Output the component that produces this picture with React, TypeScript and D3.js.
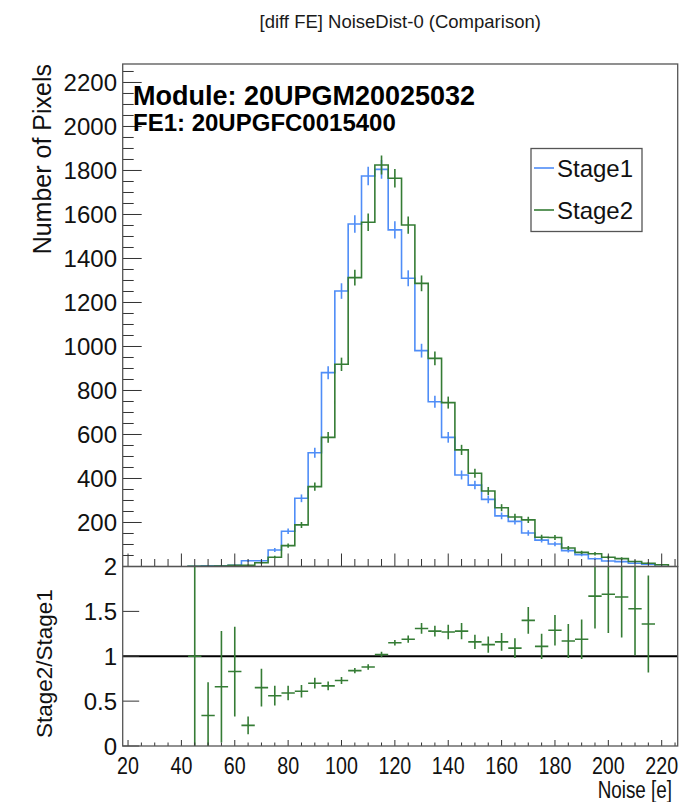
import React from 'react'
import * as d3 from 'd3'

// bin centres (bin width 5)
const binCenters = [45, 50, 55, 60, 65, 70, 75, 80, 85, 90, 95, 100, 105, 110, 115, 120, 125, 130, 135, 140,
  145, 150, 155, 160, 165, 170, 175, 180, 185, 190, 195, 200, 205, 210, 215, 220]

const stage1 = [1, 3, 3, 6, 26, 26, 75, 160, 310, 517, 881, 1252, 1557, 1775, 1805, 1530, 1310, 981, 749, 587,
  416, 370, 305, 230, 205, 152, 120, 102, 72, 54, 35, 25, 22, 15, 11, 0]

const stage2 = [1, 1, 2, 5, 6, 17, 42, 95, 189, 363, 587, 919, 1313, 1565, 1825, 1765, 1552, 1287, 946, 745,
  530, 424, 343, 267, 225, 212, 133, 132, 84, 64, 58, 42, 36, 23, 15, 8]

// ratio panel (bins 45..215)
const ratioValues = [1.0, 0.34, 0.66, 0.83, 0.23, 0.65, 0.56, 0.59, 0.61, 0.70, 0.67, 0.73, 0.84, 0.88, 1.02, 1.15,
  1.19, 1.31, 1.28, 1.27, 1.28, 1.16, 1.13, 1.16, 1.09, 1.40, 1.11, 1.29, 1.17, 1.19, 1.67, 1.69, 1.66, 1.53, 1.36]
const ratioErrors = [1.41, 0.37, 0.62, 0.5, 0.1, 0.21, 0.11, 0.08, 0.07, 0.06, 0.05, 0.04, 0.03, 0.03, 0.03, 0.03,
  0.04, 0.06, 0.06, 0.08, 0.09, 0.08, 0.09, 0.1, 0.11, 0.15, 0.14, 0.17, 0.19, 0.22, 0.36, 0.43, 0.45, 0.52, 0.54]

const xTickLabels = [20, 40, 60, 80, 100, 120, 140, 160, 180, 200, 220]
const yTickLabels = [200, 400, 600, 800, 1000, 1200, 1400, 1600, 1800, 2000, 2200]
const ratioTickLabels = [0, 0.5, 1, 1.5, 2]

const BIN_W = 5
const BLUE = '#4f8df7'
const GREEN = '#357c35'
const FONT = 'Liberation Sans, Arial, Helvetica, sans-serif'

const left = 122.7
const right = 677.7
const topY = 64
const midY = 566.5
const bottomY = 746

export default function App() {
  const x = d3.scaleLinear().domain([18, 226]).range([left, right])
  const y = d3.scaleLinear().domain([0, 2284]).range([midY, topY])
  const yr = d3.scaleLinear().domain([0, 2]).range([bottomY, midY])

  const stepPath = (vals: number[]) => {
    let p = `M${x(binCenters[0] - BIN_W / 2)},${y(0)}`
    vals.forEach((v, i) => {
      p += `V${y(v)}H${x(binCenters[i] + BIN_W / 2)}`
    })
    p += `V${y(0)}`
    return p
  }

  const errBars = (vals: number[], color: string) =>
    vals.map((v, i) =>
      v > 0 ? (
        <line key={i} x1={x(binCenters[i])} x2={x(binCenters[i])}
          y1={y(v - Math.sqrt(v))} y2={y(v + Math.sqrt(v))} stroke={color} strokeWidth={1.6} />
      ) : null
    )

  const xMinor = d3.range(20, 226, 5)
  const yMinor = d3.range(0, 2284, 50)

  return (
    <svg width={695} height={802} style={{ position: 'absolute', left: 0, top: 0, background: '#fff' }}
      fontFamily={FONT}>
      <defs>
        <clipPath id="upClip"><rect x={left} y={topY} width={right - left} height={midY - topY} /></clipPath>
        <clipPath id="lowClip"><rect x={left} y={midY} width={right - left} height={bottomY - midY} /></clipPath>
      </defs>

      <text x={(left + right) / 2} y={28} textAnchor="middle" fontSize={18.5} fill="#1a1a1a">
        [diff FE] NoiseDist-0 (Comparison)
      </text>

      {/* upper pad histograms */}
      <g clipPath="url(#upClip)" fill="none">
        <path d={stepPath(stage1)} stroke={BLUE} strokeWidth={1.6} />
        {errBars(stage1, BLUE)}
        <path d={stepPath(stage2)} stroke={GREEN} strokeWidth={1.6} />
        {errBars(stage2, GREEN)}
      </g>

      {/* upper axes ticks */}
      <g stroke="#333" strokeWidth={1}>
        {yMinor.map(v => (
          <line key={'ym' + v} x1={left} x2={left + (v % 200 === 0 ? 19 : 11)} y1={y(v)} y2={y(v)} />
        ))}
        {xMinor.map(v => (
          <line key={'xm' + v} x1={x(v)} x2={x(v)} y1={midY} y2={midY - (v % 20 === 0 ? 13 : 7.5)} />
        ))}
      </g>
      {yTickLabels.map(v => (
        <text key={'yl' + v} x={117} y={y(v)} dy="0.36em" textAnchor="end" fontSize={24} fill="#111">{v}</text>
      ))}
      <rect x={left} y={topY} width={right - left} height={midY - topY} fill="none" stroke="#555" strokeWidth={1.3} />

      <text x={133} y={105} fontSize={27} fontWeight="bold" fill="#000">Module: 20UPGM20025032</text>
      <text x={133} y={130.5} fontSize={24} fontWeight="bold" fill="#000">FE1: 20UPGFC0015400</text>

      {/* legend */}
      <rect x={531} y={148.5} width={111} height={83} fill="#fff" stroke="#555" strokeWidth={1.3} />
      <line x1={534} x2={554} y1={168} y2={168} stroke={BLUE} strokeWidth={1.6} />
      <text x={557} y={168} dy="0.36em" fontSize={24} fill="#111">Stage1</text>
      <line x1={534} x2={554} y1={210} y2={210} stroke={GREEN} strokeWidth={1.6} />
      <text x={557} y={210} dy="0.36em" fontSize={24} fill="#111">Stage2</text>

      <text transform={`translate(51,${topY}) rotate(-90)`} textAnchor="end" fontSize={25} fill="#111">
        Number of Pixels
      </text>

      {/* ratio pad */}
      <line x1={left} x2={right} y1={yr(1)} y2={yr(1)} stroke="#000" strokeWidth={2} />
      <g clipPath="url(#lowClip)" stroke={GREEN} strokeWidth={1.6}>
        {ratioValues.map((r, i) => (
          <g key={'r' + i}>
            <line x1={x(binCenters[i] - BIN_W / 2)} x2={x(binCenters[i] + BIN_W / 2)} y1={yr(r)} y2={yr(r)} />
            <line x1={x(binCenters[i])} x2={x(binCenters[i])}
              y1={yr(Math.max(0, r - ratioErrors[i]))} y2={yr(r + ratioErrors[i])} />
          </g>
        ))}
      </g>
      <g stroke="#333" strokeWidth={1}>
        {ratioTickLabels.map(v => (
          <line key={'rt' + v} x1={left} x2={left + 16.5} y1={yr(v)} y2={yr(v)} />
        ))}
        {xMinor.map(v => (
          <line key={'rx' + v} x1={x(v)} x2={x(v)} y1={bottomY} y2={bottomY - (v % 20 === 0 ? 6 : 3.5)} />
        ))}
      </g>
      <rect x={left} y={midY} width={right - left} height={bottomY - midY} fill="none" stroke="#555" strokeWidth={1.3} />
      {ratioTickLabels.map(v => (
        <text key={'rl' + v} x={117} y={yr(v)} dy="0.36em" textAnchor="end" fontSize={24} fill="#111">{v}</text>
      ))}
      {xTickLabels.map(v => (
        <text key={'xl' + v} transform={`translate(${x(v)},774) scale(0.82,1)`} textAnchor="middle"
          fontSize={24} fill="#111">{v}</text>
      ))}
      <text transform={`translate(672,798) scale(0.82,1)`} textAnchor="end" fontSize={23} fill="#111">Noise [e]</text>
      <text transform={`translate(52,${bottomY - 8}) rotate(-90)`} textAnchor="start" fontSize={22.5} fill="#111">
        Stage2/Stage1
      </text>
    </svg>
  )
}
